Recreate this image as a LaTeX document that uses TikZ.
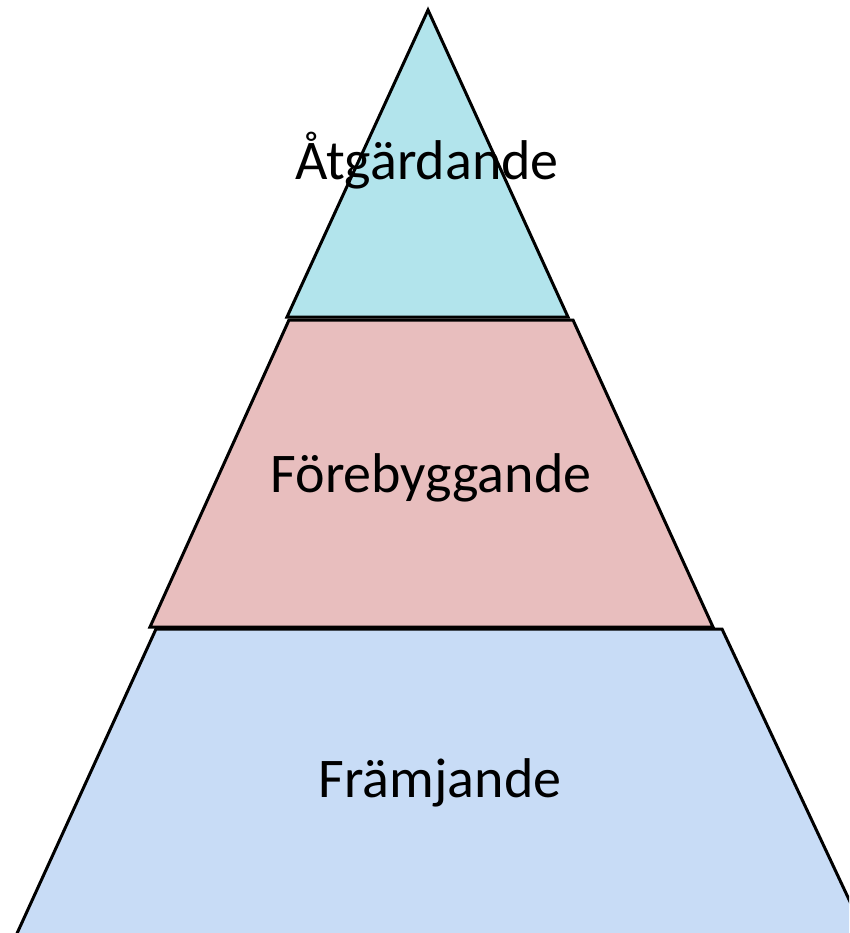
\documentclass[tikz,border=0pt]{standalone}
\usepackage{fontspec}
\setmainfont{Carlito}
\definecolor{topfill}{HTML}{B2E4EC}
\definecolor{midfill}{HTML}{E8BEBE}
\definecolor{botfill}{HTML}{C8DCF6}
\begin{document}
\begin{tikzpicture}[x=1pt,y=-1pt,
  layer/.style={draw=black,line width=3pt,line join=miter},
  lbl/.style={font=\fontsize{56}{62}\selectfont,text=black,inner sep=0pt,anchor=base}]
\useasboundingbox (0,0) rectangle (849,933);
\begin{scope}
\clip (0,0) rectangle (849,933);
% bottom layer
\path[layer,fill=botfill] (156,629) -- (722,629) -- (868,940) -- (14,940) -- cycle;
% middle layer
\path[layer,fill=midfill] (289,320) -- (573,320) -- (713,627) -- (150,627) -- cycle;
% top layer
\path[layer,fill=topfill] (428,10) -- (568,317) -- (287,317) -- cycle;
\end{scope}
\node[lbl] (atg) at (427,180) {Åtgärdande};
\node[lbl] (fore) at (431,492) {Förebyggande};
\node[lbl] (fram) at (440,797) {Främjande};
\end{tikzpicture}
\end{document}
